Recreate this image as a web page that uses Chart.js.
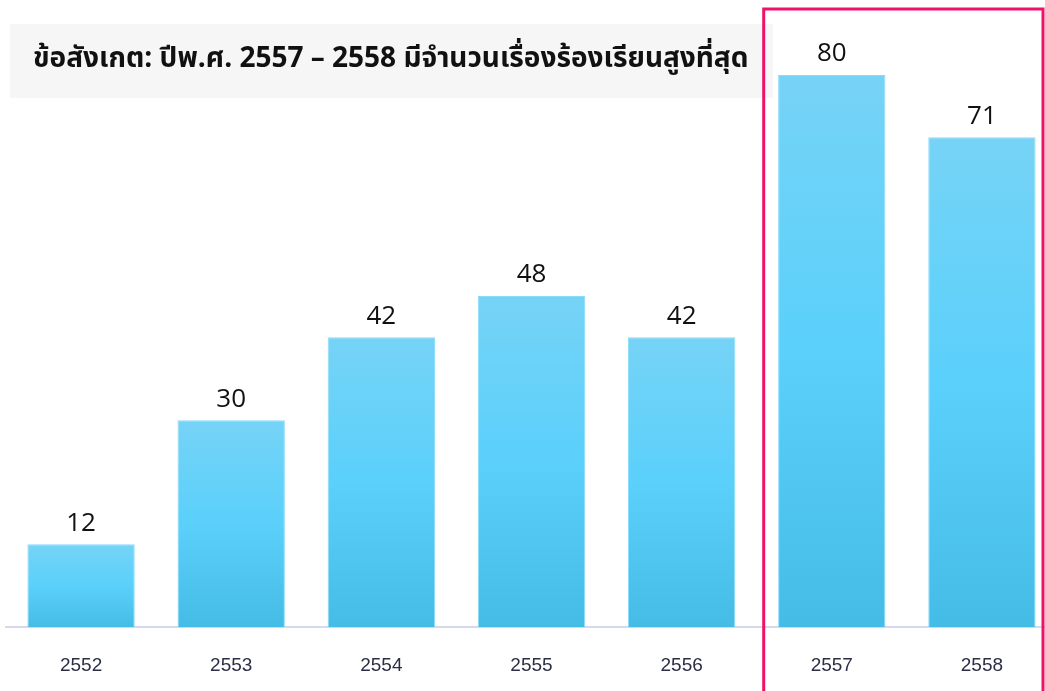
<!DOCTYPE html>
<html>
<head>
<meta charset="utf-8">
<script src="https://cdn.jsdelivr.net/npm/chart.js@4"></script>
<style>
    html, body { margin: 0; padding: 0; background: #fff; overflow: hidden; }
    #wrap { position: relative; width: 1057px; height: 704px; }
</style>
</head>
<body>
<div id="wrap"><canvas id="complaintChart"></canvas></div>
<script>
const years = ['2552', '2553', '2554', '2555', '2556', '2557', '2558'];
const complaints = [12, 30, 42, 48, 42, 80, 71];
const noteText = 'ข้อสังเกต: ปีพ.ศ. 2557 – 2558 มีจำนวนเรื่องร้องเรียนสูงที่สุด';
const highlightYears = ['2557', '2558'];

document.addEventListener('DOMContentLoaded', function() {
    const ctx = document.getElementById('complaintChart').getContext('2d');

    // gradient per bar, from its own top down to the baseline
    function barGradient(context) {
        const chart = context.chart;
        if (!chart.chartArea || context.raw === undefined) return '#5ad0fb';
        const yScale = chart.scales.y;
        const top = yScale.getPixelForValue(context.raw);
        const bottom = yScale.getPixelForValue(0);
        const g = chart.ctx.createLinearGradient(0, top, 0, bottom);
        g.addColorStop(0, '#76d3f6');
        g.addColorStop(0.5, '#5ad0fb');
        g.addColorStop(1, '#45bce5');
        return g;
    }

    const valueLabels = {
        id: 'valueLabels',
        afterDatasetsDraw(chart) {
            const c = chart.ctx;
            const meta = chart.getDatasetMeta(0);
            c.save();
            c.font = '26px "Open Sans", "Noto Sans", sans-serif';
            c.fillStyle = '#111';
            c.textAlign = 'center';
            c.textBaseline = 'bottom';
            meta.data.forEach((bar, i) => {
                c.fillText(complaints[i], bar.x, bar.y - 8);
            });
            c.restore();
        }
    };

    const notes = {
        id: 'notes',
        afterDraw(chart) {
            const c = chart.ctx;
            const x = chart.scales.x;
            c.save();
            // note box
            c.fillStyle = '#f6f6f6';
            c.fillRect(10, 24, 763, 74);
            c.font = 'bold 28px "Noto Sans Thai", "Noto Sans", sans-serif';
            c.fillStyle = '#111';
            c.textBaseline = 'middle';
            c.fillText(noteText, 33, 61);
            // highlight frame
            const i0 = years.indexOf(highlightYears[0]);
            const i1 = years.indexOf(highlightYears[highlightYears.length - 1]);
            const half = (x.getPixelForValue(1) - x.getPixelForValue(0)) / 2;
            const left = x.getPixelForValue(i0) - half + 7;
            const right = x.getPixelForValue(i1) + half - 14;
            c.strokeStyle = '#f2116a';
            c.lineWidth = 3;
            c.strokeRect(left, 9, right - left, 720);
            c.restore();
        }
    };

    new Chart(ctx, {
        type: 'bar',
        data: {
            labels: years,
            datasets: [{
                data: complaints,
                backgroundColor: barGradient,
                borderColor: 'rgba(125, 215, 248, 0.9)',
                borderWidth: 1,
                barPercentage: 0.715,
                categoryPercentage: 1
            }]
        },
        options: {
            responsive: true,
            maintainAspectRatio: false,
            animation: false,
            layout: { padding: { left: 6, right: 0, top: 6, bottom: 0 } },
            plugins: {
                legend: { display: false },
                tooltip: { enabled: false },
                title: { display: false }
            },
            scales: {
                x: {
                    grid: { display: false, drawTicks: false },
                    border: { color: '#d6d8ec', width: 2 },
                    ticks: {
                        color: '#2b2f45',
                        font: { family: '"Liberation Sans", Arial, sans-serif', size: 19 },
                        padding: 27
                    }
                },
                y: {
                    display: false,
                    min: 0,
                    max: 90
                }
            }
        },
        plugins: [valueLabels, notes]
    });
});
</script>
</body>
</html>
